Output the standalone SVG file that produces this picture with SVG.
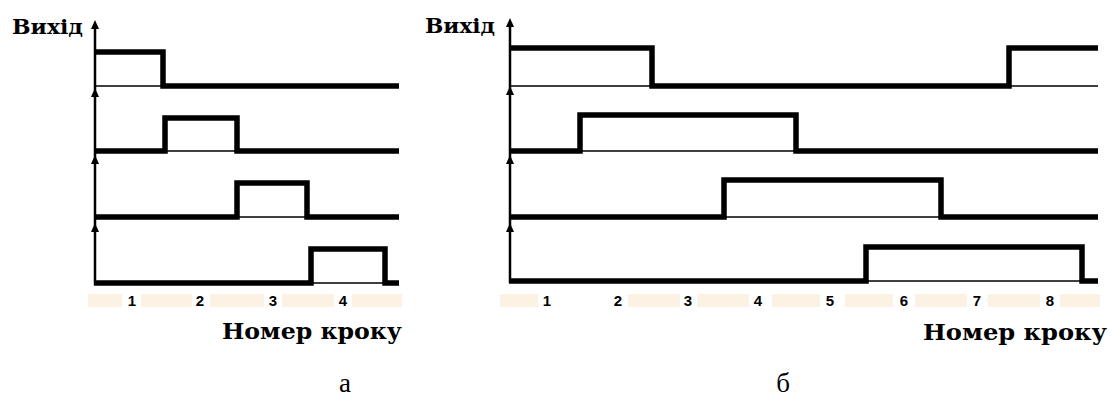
<svg xmlns="http://www.w3.org/2000/svg" width="1111" height="401" viewBox="0 0 1111 401">
<defs>
<style>
.sig{fill:none;stroke:#000;stroke-width:5.5;stroke-linejoin:miter;stroke-linecap:butt}
.thin{fill:none;stroke:#000;stroke-width:1.5}
.axis{fill:none;stroke:#000;stroke-width:2.5}
.tip{fill:#000}
.band{fill:#fcf2e4}
.lbl{font-family:"DejaVu Serif","Liberation Serif",serif;font-weight:bold;fill:#000}
.num{font-family:"Liberation Sans","DejaVu Sans",sans-serif;font-weight:bold;font-size:15px;fill:#000;text-anchor:middle}
.cap{font-family:"Liberation Serif","Times New Roman",serif;font-size:27px;fill:#000;text-anchor:middle}
</style>
</defs>
<rect width="1111" height="401" fill="#fff"/>

<g id="bands">
<rect class="band" x="88" y="294" width="34" height="13"/>
<rect class="band" x="141" y="294" width="51" height="13"/>
<rect class="band" x="210" y="294" width="54" height="13"/>
<rect class="band" x="282" y="294" width="52" height="13"/>
<rect class="band" x="352" y="294" width="50" height="13"/>
<rect class="band" x="500" y="294" width="38" height="13"/>
<rect class="band" x="628" y="294" width="52" height="13"/>
<rect class="band" x="697" y="294" width="52" height="13"/>
<rect class="band" x="772" y="294" width="48" height="13"/>
<rect class="band" x="845" y="294" width="48" height="13"/>
<rect class="band" x="915" y="294" width="52" height="13"/>
<rect class="band" x="988" y="294" width="52" height="13"/>
<rect class="band" x="1060" y="294" width="40" height="13"/>
</g>

<g id="connectors">
<line class="axis" x1="95" y1="26" x2="95" y2="285"/>
<polygon class="tip" points="95,20 91,29 99,29"/>
<polygon class="tip" points="95,88 91,97 99,97"/>
<polygon class="tip" points="95,155 91,164 99,164"/>
<polygon class="tip" points="95,223 91,232 99,232"/>
<line class="axis" x1="510" y1="24" x2="510" y2="283"/>
<polygon class="tip" points="510,18 506,27 514,27"/>
<polygon class="tip" points="510,86 506,95 514,95"/>
<polygon class="tip" points="510,155 506,164 514,164"/>
<polygon class="tip" points="510,223 506,232 514,232"/>
</g>

<g id="panel-a-row1">
<path class="thin" d="M95,86 H163"/>
<path class="sig" d="M95,52 H163 V86 H399"/>
</g>
<g id="panel-a-row2">
<path class="thin" d="M165,151 H237"/>
<path class="sig" d="M95,151 H165 V118 H237 V151 H399"/>
</g>
<g id="panel-a-row3">
<path class="thin" d="M237,217 H307"/>
<path class="sig" d="M95,217 H237 V183 H307 V217 H399"/>
</g>
<g id="panel-a-row4">
<path class="thin" d="M311,283 H385"/>
<path class="sig" d="M94,283 H311 V249 H385 V283 H399"/>
</g>

<g id="panel-b-row1">
<path class="thin" d="M510,86 H652 M1009,86 H1098"/>
<path class="sig" d="M510,48 H652 V86 H1009 V48 H1098"/>
</g>
<g id="panel-b-row2">
<path class="thin" d="M580,151 H796"/>
<path class="sig" d="M510,151 H580 V115 H796 V151 H1098"/>
</g>
<g id="panel-b-row3">
<path class="thin" d="M724,217 H941"/>
<path class="sig" d="M510,217 H724 V180 H941 V217 H1098"/>
</g>
<g id="panel-b-row4">
<path class="thin" d="M866,281 H1082"/>
<path class="sig" d="M509,281 H866 V247 H1082 V281 H1098"/>
</g>

<g id="labels-a">
<text class="lbl" x="12" y="34" font-size="21" textLength="71" lengthAdjust="spacingAndGlyphs">Вихід</text>
<text class="num" x="132" y="306">1</text>
<text class="num" x="200" y="306">2</text>
<text class="num" x="273" y="306">3</text>
<text class="num" x="343" y="306">4</text>
<text class="lbl" x="222" y="339" font-size="23" textLength="180" lengthAdjust="spacingAndGlyphs">Номер кроку</text>
<text class="cap" x="345" y="392">а</text>
</g>

<g id="labels-b">
<text class="lbl" x="425" y="33" font-size="21" textLength="70" lengthAdjust="spacingAndGlyphs">Вихід</text>
<text class="num" x="547" y="306">1</text>
<text class="num" x="618" y="306">2</text>
<text class="num" x="688" y="306">3</text>
<text class="num" x="758" y="306">4</text>
<text class="num" x="830" y="306">5</text>
<text class="num" x="904" y="306">6</text>
<text class="num" x="977" y="306">7</text>
<text class="num" x="1050" y="306">8</text>
<text class="lbl" x="923" y="340" font-size="23" textLength="184" lengthAdjust="spacingAndGlyphs">Номер кроку</text>
<text class="cap" x="783" y="392">б</text>
</g>
</svg>
